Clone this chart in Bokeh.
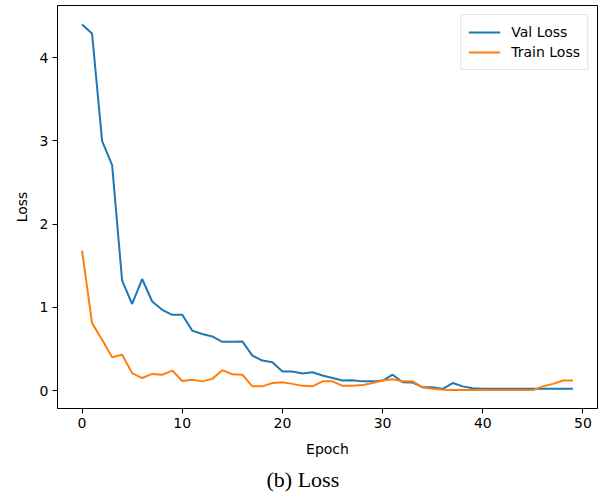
from bokeh.plotting import figure
from bokeh.models import Range1d, FixedTicker, Legend, LegendItem, Title
from bokeh.embed import file_html
from bokeh.resources import INLINE

epochs = list(range(50))
val_loss = [4.40, 4.29, 3.00, 2.71, 1.32, 1.04, 1.34, 1.07, 0.97, 0.91,
            0.91, 0.72, 0.68, 0.65, 0.585, 0.585, 0.59, 0.42, 0.36, 0.34,
            0.23, 0.228, 0.205, 0.22, 0.18, 0.15, 0.12, 0.124, 0.11, 0.11,
            0.12, 0.19, 0.10, 0.096, 0.04, 0.04, 0.02, 0.09, 0.05, 0.028,
            0.02, 0.02, 0.02, 0.02, 0.02, 0.02, 0.02, 0.02, 0.02, 0.02]
train_loss = [1.68, 0.81, 0.61, 0.40, 0.43, 0.21, 0.15, 0.20, 0.19, 0.24,
              0.115, 0.13, 0.11, 0.14, 0.245, 0.195, 0.19, 0.05, 0.05, 0.09,
              0.10, 0.08, 0.056, 0.05, 0.11, 0.11, 0.056, 0.056, 0.065, 0.09,
              0.12, 0.135, 0.11, 0.11, 0.035, 0.02, 0.01, 0.005, 0.005, 0.005,
              0.005, 0.005, 0.005, 0.005, 0.005, 0.005, 0.05, 0.08, 0.12, 0.12]
x_ticks = [0, 10, 20, 30, 40, 50]
y_ticks = [0, 1, 2, 3, 4]

FONT = "DejaVu Sans"

p = figure(width=607, height=497, output_backend="svg", toolbar_location=None,
           x_range=Range1d(-2.45, 51.45), y_range=Range1d(-0.216, 4.627),
           min_border_left=57, min_border_right=10, min_border_top=5,
           min_border_bottom=89)
p.background_fill_color = "white"
p.border_fill_color = "white"
p.outline_line_color = "black"
p.outline_line_alpha = 1.0
p.outline_line_width = 1
p.grid.visible = False

r_val = p.line(epochs, val_loss, line_color="#1f77b4", line_width=2)
r_train = p.line(epochs, train_loss, line_color="#ff7f0e", line_width=2)

for ax in (p.xaxis[0], p.yaxis[0]):
    ax.axis_line_color = "black"
    ax.major_tick_line_color = "black"
    ax.minor_tick_line_color = None
    ax.major_tick_in = 0
    ax.major_tick_out = 5
    ax.major_label_text_font = FONT
    ax.major_label_text_font_size = "14px"
    ax.major_label_text_color = "black"
    ax.major_label_standoff = 4
    ax.axis_label_text_font = FONT
    ax.axis_label_text_font_size = "14px"
    ax.axis_label_text_font_style = "normal"
    ax.axis_label_text_color = "black"

p.xaxis.ticker = FixedTicker(ticks=x_ticks)
p.yaxis.ticker = FixedTicker(ticks=y_ticks)
p.xaxis.axis_label = "Epoch"
p.yaxis.axis_label = "Loss"
p.xaxis.axis_label_standoff = 10
p.yaxis.axis_label_standoff = 7

legend = Legend(items=[LegendItem(label="Val Loss", renderers=[r_val]),
                       LegendItem(label="Train Loss", renderers=[r_train])],
                location="top_right")
legend.label_text_font = FONT
legend.label_text_font_size = "14px"
legend.label_text_color = "black"
legend.glyph_width = 32
legend.glyph_height = 20
legend.label_height = 20
legend.spacing = 0
legend.padding = 7
legend.margin = 9
legend.label_standoff = 11
legend.border_line_color = "#cccccc"
legend.border_line_width = 1
legend.background_fill_alpha = 0.8
p.add_layout(legend)

cap = Title(text="(b) Loss", align="left", offset=209,
            text_font="Liberation Serif", text_font_size="22px",
            text_font_style="normal", text_color="black", standoff=10)
p.add_layout(cap, "below")

open("out.html", "w").write(file_html(p, INLINE))
